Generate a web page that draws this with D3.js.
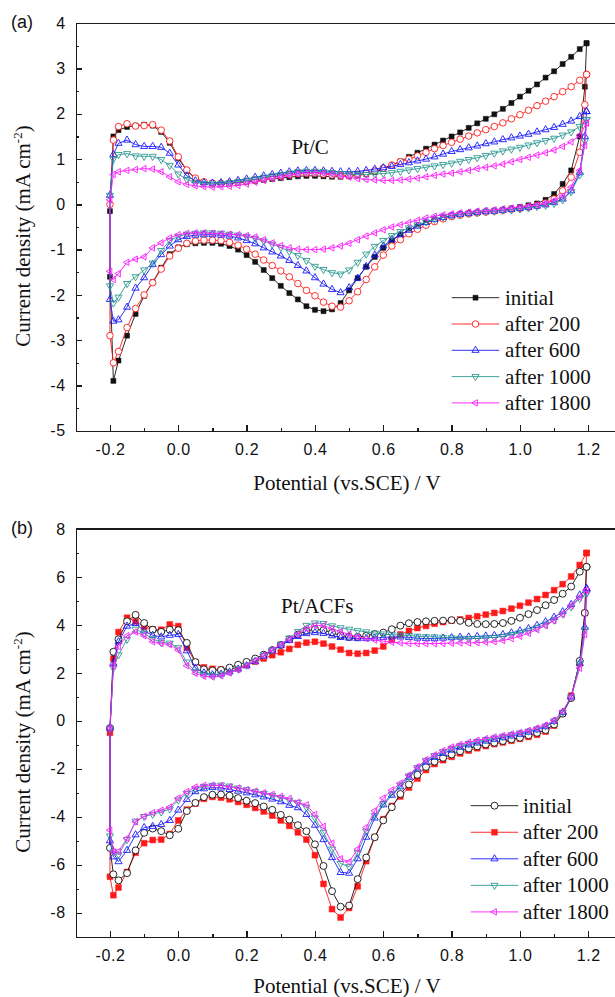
<!DOCTYPE html>
<html lang="en">
<head>
<meta charset="utf-8">
<script src="https://d3js.org/d3.v7.min.js"></script>
<style type="text/css">
body {
	margin: 0;
	background-color: #ffffff;
}
.axis path, .axis line {
	fill: none;
	stroke: #1a1a1a;
	stroke-width: 1.3;
	shape-rendering: crispEdges;
}
.axis text {
	font-family: "Liberation Sans", Arial, sans-serif;
	font-size: 16px;
	letter-spacing: 0.6px;
	fill: #111;
}
.title {
	font-family: "Liberation Serif", "Times New Roman", serif;
	font-size: 21px;
	fill: #111;
}
.tag {
	font-family: "Liberation Sans", Arial, sans-serif;
	font-size: 18px;
	fill: #111;
}
</style>
</head>
<body>
<div id="chart"></div>
<script type="text/javascript">

var width = 615;
var height = 997;

// potential of the forward (upper) and reverse (lower) sweeps, V vs SCE
var potUp = [-0.2, -0.19, -0.175, -0.15, -0.125, -0.1, -0.075, -0.05, -0.025, 0,
	0.025, 0.05, 0.075, 0.1, 0.125, 0.15, 0.175, 0.2, 0.225, 0.25,
	0.275, 0.3, 0.325, 0.35, 0.375, 0.4, 0.425, 0.45, 0.475, 0.5,
	0.525, 0.55, 0.575, 0.6, 0.625, 0.65, 0.675, 0.7, 0.725, 0.75,
	0.775, 0.8, 0.825, 0.85, 0.875, 0.9, 0.925, 0.95, 0.975, 1.0,
	1.025, 1.05, 1.075, 1.1, 1.125, 1.15, 1.175, 1.195];
var potDown = [1.195, 1.19, 1.175, 1.15, 1.125, 1.1, 1.075, 1.05, 1.025, 1.0,
	0.975, 0.95, 0.925, 0.9, 0.875, 0.85, 0.825, 0.8, 0.775, 0.75,
	0.725, 0.7, 0.675, 0.65, 0.625, 0.6, 0.575, 0.55, 0.525, 0.5,
	0.475, 0.45, 0.425, 0.4, 0.375, 0.35, 0.325, 0.3, 0.275, 0.25,
	0.225, 0.2, 0.175, 0.15, 0.125, 0.1, 0.075, 0.05, 0.025, 0,
	-0.025, -0.05, -0.075, -0.1, -0.125, -0.15, -0.175, -0.19, -0.2];

// (a) Pt/C, current density mA cm-2
var aInitialUp = [-0.15, 1.5, 1.64, 1.71, 1.74, 1.76, 1.74, 1.6, 1.36, 1.02,
	0.74, 0.57, 0.49, 0.47, 0.46, 0.47, 0.48, 0.5, 0.52, 0.54,
	0.56, 0.58, 0.6, 0.62, 0.63, 0.63, 0.62, 0.61, 0.61, 0.62,
	0.64, 0.67, 0.71, 0.78, 0.86, 0.95, 1.05, 1.14, 1.23, 1.32,
	1.41, 1.5, 1.59, 1.69, 1.79, 1.89, 1.99, 2.11, 2.24, 2.38,
	2.51, 2.65, 2.8, 2.94, 3.1, 3.26, 3.43, 3.56];
var aInitialDown = [3.56, 2.6, 1.5, 0.75, 0.45, 0.23, 0.1, 0.02, -0.02, -0.06,
	-0.09, -0.12, -0.14, -0.16, -0.18, -0.2, -0.22, -0.25, -0.29, -0.34,
	-0.41, -0.49, -0.57, -0.67, -0.8, -0.96, -1.16, -1.38, -1.63, -1.9,
	-2.18, -2.32, -2.36, -2.33, -2.25, -2.1, -1.96, -1.8, -1.63, -1.45,
	-1.27, -1.12, -1.0, -0.92, -0.87, -0.85, -0.85, -0.86, -0.88, -0.95,
	-1.1, -1.4, -1.72, -2.02, -2.42, -2.9, -3.45, -3.9, -1.6];
var a200Up = [0.0, 1.42, 1.72, 1.78, 1.73, 1.74, 1.76, 1.64, 1.4, 1.05,
	0.76, 0.58, 0.5, 0.47, 0.46, 0.47, 0.49, 0.51, 0.54, 0.57,
	0.6, 0.63, 0.66, 0.68, 0.69, 0.69, 0.67, 0.65, 0.64, 0.64,
	0.66, 0.69, 0.74, 0.8, 0.87, 0.94, 1.0, 1.07, 1.15, 1.23,
	1.3, 1.37, 1.44, 1.51, 1.58, 1.65, 1.72, 1.8, 1.89, 1.98,
	2.08, 2.18, 2.28, 2.38, 2.49, 2.6, 2.74, 2.87];
var a200Down = [2.87, 2.2, 1.15, 0.6, 0.3, 0.12, 0.03, -0.02, -0.06, -0.09,
	-0.11, -0.13, -0.15, -0.17, -0.19, -0.21, -0.24, -0.27, -0.32, -0.38,
	-0.46, -0.55, -0.65, -0.78, -0.92, -1.12, -1.38, -1.66, -1.93, -2.13,
	-2.27, -2.25, -2.16, -2.02, -1.9, -1.75, -1.6, -1.47, -1.35, -1.23,
	-1.1, -0.99, -0.9, -0.84, -0.8, -0.79, -0.79, -0.81, -0.86, -0.97,
	-1.14, -1.43, -1.73, -2.0, -2.3, -2.72, -3.25, -3.5, -2.9];
var a600Up = [0.2, 1.1, 1.35, 1.42, 1.32, 1.28, 1.28, 1.26, 1.13, 0.87,
	0.63, 0.52, 0.48, 0.47, 0.48, 0.5, 0.53, 0.56, 0.6, 0.63,
	0.66, 0.69, 0.72, 0.74, 0.75, 0.75, 0.74, 0.73, 0.72, 0.72,
	0.73, 0.75, 0.78, 0.81, 0.84, 0.88, 0.92, 0.96, 1.0, 1.05,
	1.11, 1.17, 1.21, 1.25, 1.29, 1.34, 1.38, 1.43, 1.47, 1.51,
	1.55, 1.6, 1.65, 1.7, 1.77, 1.84, 1.94, 2.05];
var a600Down = [2.05, 1.5, 0.7, 0.3, 0.12, 0.04, -0.01, -0.04, -0.07, -0.09,
	-0.11, -0.13, -0.15, -0.16, -0.18, -0.2, -0.22, -0.25, -0.29, -0.33,
	-0.4, -0.48, -0.57, -0.67, -0.78, -0.92, -1.12, -1.37, -1.63, -1.84,
	-1.95, -1.88, -1.76, -1.62, -1.47, -1.35, -1.24, -1.14, -1.05, -0.96,
	-0.87, -0.8, -0.74, -0.7, -0.68, -0.67, -0.67, -0.68, -0.71, -0.78,
	-0.92, -1.11, -1.33, -1.62, -1.85, -2.27, -2.55, -2.58, -2.1];
var a1000Up = [0.2, 1.0, 1.1, 1.12, 1.07, 1.06, 1.06, 0.99, 0.86, 0.67,
	0.55, 0.48, 0.46, 0.45, 0.46, 0.48, 0.5, 0.53, 0.56, 0.6,
	0.63, 0.66, 0.69, 0.72, 0.73, 0.73, 0.72, 0.7, 0.68, 0.67,
	0.66, 0.66, 0.67, 0.68, 0.7, 0.73, 0.76, 0.79, 0.82, 0.85,
	0.88, 0.91, 0.95, 0.99, 1.03, 1.08, 1.13, 1.18, 1.22, 1.26,
	1.31, 1.36, 1.41, 1.46, 1.53, 1.6, 1.72, 1.87];
var a1000Down = [1.87, 1.4, 0.65, 0.28, 0.1, 0.02, -0.02, -0.05, -0.08, -0.1,
	-0.12, -0.13, -0.15, -0.16, -0.18, -0.2, -0.22, -0.24, -0.28, -0.33,
	-0.39, -0.45, -0.52, -0.6, -0.69, -0.8, -0.93, -1.1, -1.28, -1.45,
	-1.54, -1.51, -1.44, -1.37, -1.24, -1.13, -1.04, -0.95, -0.88, -0.81,
	-0.75, -0.71, -0.68, -0.66, -0.64, -0.63, -0.63, -0.64, -0.66, -0.71,
	-0.8, -1.02, -1.3, -1.45, -1.6, -1.75, -2.05, -2.18, -1.8];
var a1800Up = [0.1, 0.66, 0.72, 0.75, 0.77, 0.79, 0.78, 0.72, 0.61, 0.5,
	0.44, 0.41, 0.39, 0.38, 0.39, 0.4, 0.42, 0.45, 0.49, 0.53,
	0.57, 0.6, 0.64, 0.67, 0.69, 0.7, 0.69, 0.67, 0.63, 0.6,
	0.57, 0.55, 0.54, 0.53, 0.53, 0.54, 0.56, 0.58, 0.61, 0.64,
	0.67, 0.69, 0.72, 0.75, 0.79, 0.82, 0.85, 0.89, 0.94, 0.99,
	1.04, 1.09, 1.14, 1.2, 1.28, 1.38, 1.52, 1.8];
var a1800Down = [1.8, 1.3, 0.75, 0.38, 0.18, 0.08, 0.02, -0.01, -0.04, -0.06,
	-0.08, -0.1, -0.12, -0.14, -0.15, -0.17, -0.19, -0.21, -0.23, -0.26,
	-0.3, -0.35, -0.4, -0.45, -0.5, -0.56, -0.63, -0.7, -0.78, -0.86,
	-0.92, -0.96, -0.99, -1.0, -1.0, -0.99, -0.96, -0.91, -0.85, -0.78,
	-0.72, -0.69, -0.67, -0.66, -0.65, -0.64, -0.63, -0.63, -0.64, -0.67,
	-0.74, -0.85, -0.96, -1.16, -1.21, -1.28, -1.53, -1.66, -1.48];

// (b) Pt/ACFs, current density mA cm-2
var bInitialUp = [-0.3, 2.88, 3.4, 4.15, 4.42, 4.08, 3.8, 3.71, 3.8, 3.78,
	3.25, 2.45, 2.15, 2.1, 2.12, 2.22, 2.34, 2.46, 2.6, 2.76,
	2.95, 3.16, 3.4, 3.6, 3.75, 3.82, 3.78, 3.68, 3.56, 3.5,
	3.5, 3.55, 3.62, 3.68, 3.82, 3.97, 4.07, 4.12, 4.15, 4.17,
	4.18, 4.2, 4.17, 4.09, 4.04, 4.03, 4.04, 4.08, 4.17, 4.3,
	4.45, 4.62, 4.82, 5.04, 5.3, 5.6, 6.22, 6.42];
var bInitialDown = [6.42, 4.5, 2.5, 0.95, 0.3, -0.15, -0.38, -0.5, -0.6, -0.7,
	-0.77, -0.84, -0.91, -0.98, -1.06, -1.15, -1.27, -1.4, -1.54, -1.7,
	-1.92, -2.25, -2.65, -3.05, -3.6, -4.15, -4.85, -5.7, -6.6, -7.7,
	-7.75, -7.1, -6.05, -5.15, -4.6, -4.35, -4.12, -3.92, -3.71, -3.57,
	-3.43, -3.33, -3.22, -3.12, -3.07, -3.08, -3.18, -3.42, -3.76, -4.5,
	-4.77, -4.6, -4.49, -4.67, -5.4, -6.35, -6.65, -6.4, -5.3];
var b200Up = [-0.5, 2.6, 3.7, 4.3, 4.15, 3.92, 3.82, 3.8, 4.02, 3.95,
	3.05, 2.45, 2.23, 2.17, 2.14, 2.15, 2.22, 2.33, 2.47, 2.6,
	2.74, 2.86, 3.0, 3.17, 3.26, 3.3, 3.22, 3.1, 2.97, 2.83,
	2.8, 2.83, 2.93, 3.1, 3.38, 3.6, 3.75, 3.87, 3.96, 4.05,
	4.12, 4.18, 4.23, 4.29, 4.36, 4.43, 4.5, 4.58, 4.68, 4.8,
	4.93, 5.08, 5.25, 5.45, 5.7, 6.02, 6.5, 7.0];
var b200Down = [7.0, 4.5, 2.4, 1.05, 0.3, -0.2, -0.45, -0.58, -0.67, -0.75,
	-0.83, -0.9, -0.97, -1.05, -1.14, -1.24, -1.36, -1.5, -1.64, -1.8,
	-2.05, -2.4, -2.78, -3.15, -3.55, -4.1, -4.85, -5.85, -6.9, -7.8,
	-8.2, -7.85, -6.8, -5.6, -4.95, -4.65, -4.38, -4.15, -3.95, -3.78,
	-3.63, -3.5, -3.38, -3.27, -3.2, -3.17, -3.25, -3.45, -3.7, -4.15,
	-4.72, -4.95, -4.97, -5.1, -5.5, -6.3, -6.95, -7.27, -6.5];
var b600Up = [-0.3, 2.4, 3.3, 3.95, 4.06, 3.75, 3.57, 3.5, 3.57, 3.6,
	2.92, 2.2, 2.0, 1.92, 1.95, 2.04, 2.16, 2.3, 2.48, 2.7,
	2.92, 3.14, 3.35, 3.52, 3.64, 3.68, 3.65, 3.55, 3.48, 3.45,
	3.43, 3.43, 3.45, 3.48, 3.5, 3.5, 3.48, 3.45, 3.43, 3.43,
	3.45, 3.47, 3.49, 3.5, 3.52, 3.54, 3.56, 3.6, 3.67, 3.75,
	3.85, 3.98, 4.13, 4.32, 4.55, 4.85, 5.25, 5.52];
var b600Down = [5.52, 3.9, 2.4, 1.0, 0.35, -0.02, -0.24, -0.37, -0.47, -0.56,
	-0.63, -0.7, -0.77, -0.84, -0.92, -1.0, -1.1, -1.22, -1.36, -1.52,
	-1.72, -2.0, -2.35, -2.75, -3.1, -3.5, -4.05, -4.85, -5.75, -6.35,
	-6.32, -5.7, -4.95, -4.35, -3.9, -3.62, -3.52, -3.37, -3.26, -3.17,
	-3.08, -3.0, -2.93, -2.86, -2.8, -2.78, -2.83, -2.95, -3.28, -3.72,
	-4.15, -4.32, -4.4, -4.45, -4.75, -5.4, -5.87, -5.67, -5.0];
var b1000Up = [-0.3, 2.2, 2.75, 3.4, 3.82, 3.65, 3.42, 3.27, 3.24, 3.05,
	2.45, 2.05, 1.95, 1.9, 1.95, 2.04, 2.16, 2.32, 2.5, 2.72,
	2.95, 3.2, 3.45, 3.72, 3.98, 4.08, 4.06, 3.96, 3.88, 3.82,
	3.76, 3.71, 3.66, 3.62, 3.59, 3.57, 3.55, 3.53, 3.51, 3.5,
	3.48, 3.46, 3.44, 3.43, 3.44, 3.46, 3.48, 3.52, 3.6, 3.68,
	3.77, 3.88, 4.02, 4.2, 4.45, 4.75, 5.1, 5.31];
var b1000Down = [5.31, 3.8, 2.4, 1.0, 0.35, 0.0, -0.22, -0.34, -0.43, -0.51,
	-0.58, -0.65, -0.72, -0.79, -0.86, -0.95, -1.04, -1.15, -1.29, -1.45,
	-1.65, -1.95, -2.3, -2.68, -3.05, -3.45, -3.95, -4.6, -5.5, -6.08,
	-5.95, -5.35, -4.65, -4.05, -3.6, -3.4, -3.31, -3.2, -3.11, -3.03,
	-2.95, -2.87, -2.8, -2.72, -2.68, -2.69, -2.74, -2.84, -3.03, -3.3,
	-3.68, -3.8, -3.9, -3.99, -4.18, -4.95, -5.58, -5.46, -4.8];
var b1800Up = [-0.3, 2.3, 3.1, 3.55, 3.71, 3.55, 3.3, 3.23, 3.18, 2.95,
	2.3, 1.98, 1.86, 1.83, 1.88, 2.0, 2.13, 2.3, 2.5, 2.72,
	2.95, 3.18, 3.4, 3.62, 3.85, 3.98, 3.97, 3.85, 3.72, 3.6,
	3.5, 3.43, 3.37, 3.32, 3.28, 3.25, 3.23, 3.22, 3.22, 3.22,
	3.23, 3.24, 3.25, 3.25, 3.26, 3.28, 3.3, 3.35, 3.43, 3.53,
	3.65, 3.8, 3.97, 4.18, 4.45, 4.8, 5.15, 5.45];
var b1800Down = [5.45, 3.6, 2.2, 1.0, 0.4, 0.02, -0.18, -0.3, -0.4, -0.48,
	-0.55, -0.61, -0.67, -0.74, -0.81, -0.89, -0.98, -1.09, -1.24, -1.42,
	-1.62, -1.92, -2.26, -2.6, -2.89, -3.22, -3.75, -4.45, -5.35, -5.88,
	-5.75, -5.1, -4.4, -3.9, -3.5, -3.4, -3.24, -3.15, -3.07, -3.0,
	-2.93, -2.87, -2.8, -2.75, -2.7, -2.68, -2.69, -2.76, -2.95, -3.22,
	-3.6, -3.73, -3.83, -3.98, -4.21, -4.9, -5.45, -5.46, -4.56];

var seriesNames = ["initial", "after 200", "after 600", "after 1000", "after 1800"];
var seriesColors = ["#111111", "#ff1a1a", "#1a1aff", "#2f9a92", "#ff1aff"];

// ticks
var xTicks = [-0.2, 0, 0.2, 0.4, 0.6, 0.8, 1.0, 1.2];
var xTickLabels = ["-0.2", "0.0", "0.2", "0.4", "0.6", "0.8", "1.0", "1.2"];
var xMinor = [-0.1, 0.1, 0.3, 0.5, 0.7, 0.9, 1.1];
var yTicksA = [-5, -4, -3, -2, -1, 0, 1, 2, 3, 4];
var yTickLabelsA = ["-5", "-4", "-3", "-2", "-1", "0", "1", "2", "3", "4"];
var yMinorA = [-4.5, -3.5, -2.5, -1.5, -0.5, 0.5, 1.5, 2.5, 3.5];
var yTicksB = [-8, -6, -4, -2, 0, 2, 4, 6, 8];
var yTickLabelsB = ["-8", "-6", "-4", "-2", "0", "2", "4", "6", "8"];
var yMinorB = [-9, -7, -5, -3, -1, 1, 3, 5, 7];

var panels = [
	{
		tag: "(a)", name: "Pt/C", top: 23.3, bottom: 430.7, yDomain: [-5, 4],
		yTicks: yTicksA, yLabels: yTickLabelsA, yMinor: yMinorA,
		up: [aInitialUp, a200Up, a600Up, a1000Up, a1800Up],
		down: [aInitialDown, a200Down, a600Down, a1000Down, a1800Down],
		markers: ["square", "circle", "triUp", "triDown", "triLeft"],
		order: [0, 1, 2, 3, 4],
		squareSize: 25, circleSize: 34,
		tagY: 28, nameX: 291.5, nameY: 154, xTitleY: 490, yTitleY: 236,
		legX1: 451.7, legX2: 499.3, legTx: 505, legY0: 297.7, legDy: 26.3
	},
	{
		tag: "(b)", name: "Pt/ACFs", top: 529, bottom: 936.7, yDomain: [-9, 8],
		yTicks: yTicksB, yLabels: yTickLabelsB, yMinor: yMinorB,
		up: [bInitialUp, b200Up, b600Up, b1000Up, b1800Up],
		down: [bInitialDown, b200Down, b600Down, b1000Down, b1800Down],
		markers: ["circle", "square", "triUp", "triDown", "triLeft"],
		order: [1, 0, 2, 3, 4],
		squareSize: 34, circleSize: 38,
		tagY: 534, nameX: 281, nameY: 613, xTitleY: 993, yTitleY: 742,
		legX1: 470.7, legX2: 518.3, legTx: 523, legY0: 805.7, legDy: 26.55
	}
];

var svg = d3.select("#chart")
	.append("svg")
	.attr("width", width)
	.attr("height", height);

var x = d3.scaleLinear().domain([-0.3, 1.28]).range([75.8, 615.6]);

// set one marker path on a selection
function setMarker(sel, p, type, color) {
	var sym = d3.symbolTriangle, size = 22, rot = 0, fill = "none";
	if (type == "square") { sym = d3.symbolSquare; size = p.squareSize; fill = color; }
	if (type == "circle") { sym = d3.symbolCircle; size = p.circleSize; fill = "#ffffff"; }
	if (type == "triDown") { rot = 180; }
	if (type == "triLeft") { rot = -90; size = 18; }
	sel.attr("d", d3.symbol().type(sym).size(size)())
		.attr("data-rot", rot)
		.style("fill", fill)
		.style("stroke", color)
		.style("stroke-width", type == "square" ? 0.5 : 0.9);
}

panels.forEach(function(p) {
	var y = d3.scaleLinear().domain(p.yDomain).range([p.bottom, p.top]);
	var g = svg.append("g");

	// curves
	var line = d3.line()
		.x(function(d) { return x(d[0]); })
		.y(function(d) { return y(d[1]); });

	p.order.forEach(function(s) {
		var color = seriesColors[s];
		var pts = potUp.map(function(v, i) { return [v, p.up[s][i]]; })
			.concat(potDown.map(function(v, i) { return [v, p.down[s][i]]; }));

		g.append("path")
			.datum(pts.concat([pts[0]]))
			.attr("d", line)
			.style("fill", "none")
			.style("stroke", color)
			.style("stroke-width", 0.9);

		g.selectAll(null)
			.data(pts)
			.enter()
			.append("path")
			.call(setMarker, p, p.markers[s], color)
			.attr("transform", function(d) {
				return "translate(" + x(d[0]) + "," + y(d[1]) + ") rotate(" + d3.select(this).attr("data-rot") + ")";
			});
	});

	// axes, ticks pointing inward
	g.append("g")
		.attr("class", "axis")
		.attr("transform", "translate(0," + p.bottom + ")")
		.call(d3.axisBottom(x).tickValues(xMinor).tickSizeInner(-3).tickSizeOuter(0).tickFormat(""));
	g.append("g")
		.attr("class", "axis")
		.attr("transform", "translate(0," + p.bottom + ")")
		.call(d3.axisBottom(x).tickValues(xTicks).tickSizeInner(-6).tickSizeOuter(0).tickPadding(13)
			.tickFormat(function(d, i) { return xTickLabels[i]; }));
	g.append("g")
		.attr("class", "axis")
		.attr("transform", "translate(" + x(-0.3) + ",0)")
		.call(d3.axisLeft(y).tickValues(p.yMinor).tickSizeInner(-3).tickSizeOuter(0).tickFormat(""));
	g.append("g")
		.attr("class", "axis")
		.attr("transform", "translate(" + x(-0.3) + ",0)")
		.call(d3.axisLeft(y).tickValues(p.yTicks).tickSizeInner(-6).tickSizeOuter(0).tickPadding(10)
			.tickFormat(function(d, i) { return p.yLabels[i]; }));

	// top frame line
	g.append("line")
		.attr("class", "axis")
		.attr("x1", x(-0.3)).attr("x2", x(1.28))
		.attr("y1", p.top).attr("y2", p.top)
		.style("stroke", "#1a1a1a")
		.style("stroke-width", 1.3)
		.style("shape-rendering", "crispEdges");

	// texts
	g.append("text")
		.attr("class", "tag")
		.attr("x", 11)
		.attr("y", p.tagY)
		.text(p.tag);

	g.append("text")
		.attr("class", "title")
		.attr("x", p.nameX)
		.attr("y", p.nameY)
		.text(p.name);

	g.append("text")
		.attr("class", "title")
		.attr("x", 347)
		.attr("y", p.xTitleY)
		.attr("text-anchor", "middle")
		.text("Potential (vs.SCE) / V");

	var yt = g.append("text")
		.attr("class", "title")
		.attr("text-anchor", "middle")
		.attr("transform", "translate(30," + p.yTitleY + ") rotate(-90)");
	yt.append("tspan").text("Current density (mA cm");
	yt.append("tspan").attr("dy", -8).style("font-size", "13px").text("-2");
	yt.append("tspan").attr("dy", 8).text(")");

	// legend
	seriesNames.forEach(function(name, s) {
		var ly = p.legY0 + s * p.legDy;
		var color = seriesColors[s];
		g.append("line")
			.attr("x1", p.legX1).attr("x2", p.legX2)
			.attr("y1", ly).attr("y2", ly)
			.style("stroke", color)
			.style("stroke-width", 0.9);
		g.append("path")
			.call(setMarker, p, p.markers[s], color)
			.attr("transform", function() {
				return "translate(" + ((p.legX1 + p.legX2) / 2) + "," + ly + ") rotate(" + d3.select(this).attr("data-rot") + ")";
			});
		g.append("text")
			.attr("class", "title")
			.attr("x", p.legTx)
			.attr("y", ly + 7)
			.text(name);
	});
});

</script>
</body>
</html>
